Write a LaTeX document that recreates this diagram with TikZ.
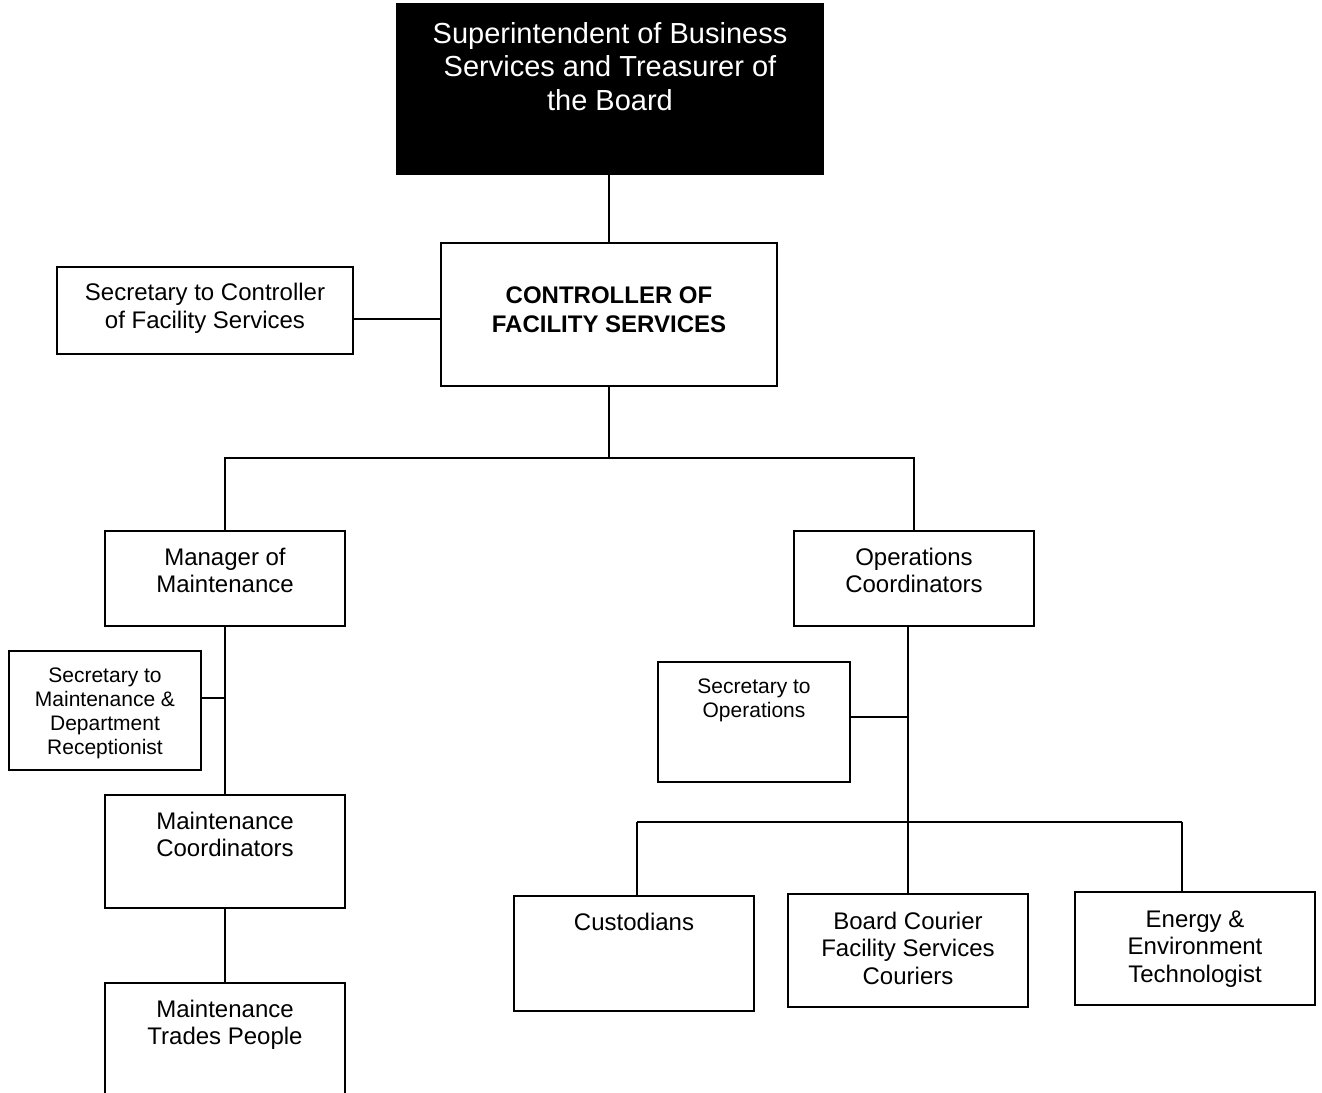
\documentclass[tikz,border=0pt]{standalone}
\usepackage{fontspec}
\setmainfont{Liberation Sans}
\usetikzlibrary{fit}
% fixed-height strut on the first line of every label, so that a label's
% north anchor sits exactly 12pt above its first baseline
\newcommand\fl{\rule{0pt}{12pt}}
\begin{document}
\begin{tikzpicture}[x=0.5pt,y=-0.5pt,
  box/.style={draw=black, line width=1pt, inner sep=0pt, rectangle},
  lbl/.style={inner sep=0pt, anchor=north, align=center, text=black,
              font=\fontsize{12}{13.75}\selectfont},
  small/.style={font=\fontsize{10.5}{12}\selectfont},
  link/.style={line width=1pt, draw=black}]
\clip (0,0) rectangle (1322,1092);

% ---- boxes ----
\node[box, fill=black, fit={(397,4) (823,174)}] (sup) {};
\node[box, fit={(441,243) (777,386)}] (ctl) {};
\node[box, fit={(57,267) (353,354)}] (sc) {};
\node[box, fit={(105,531) (345,626)}] (mm) {};
\node[box, fit={(794,531) (1034,626)}] (oc) {};
\node[box, fit={(9,651) (201,770)}] (sm) {};
\node[box, fit={(105,795) (345,908)}] (mc) {};
\node[box, fit={(105,983) (345,1100)}] (tp) {};
\node[box, fit={(658,662) (850,782)}] (so) {};
\node[box, fit={(514,896) (754,1011)}] (cu) {};
\node[box, fit={(788,894) (1028,1007)}] (bc) {};
\node[box, fit={(1075,892) (1315,1005)}] (en) {};

% ---- labels ----
\node[lbl, text=white, font=\fontsize{14.5}{16.75}\selectfont] (sup-t) at (610,19)
  {\fl Superintendent of Business\\Services and Treasurer of\\the Board};
\node[lbl, font=\bfseries\fontsize{12}{14.5}\selectfont] (ctl-t) at (609,279)
  {\fl CONTROLLER OF\\FACILITY SERVICES};
\node[lbl, font=\fontsize{12}{14}\selectfont] (sc-t) at (205,276)
  {\fl Secretary to Controller\\of Facility Services};
\node[lbl] (mm-t) at (225,541) {\fl Manager of\\Maintenance};
\node[lbl] (oc-t) at (914,541) {\fl Operations\\Coordinators};
\node[lbl, small] (sm-t) at (105,658)
  {\fl Secretary to\\Maintenance \&\\Department\\Receptionist};
\node[lbl] (mc-t) at (225,805) {\fl Maintenance\\Coordinators};
\node[lbl] (tp-t) at (225,993) {\fl Maintenance\\Trades People};
\node[lbl, small] (so-t) at (754,669) {\fl Secretary to\\Operations};
\node[lbl] (cu-t) at (634,906) {\fl Custodians};
\node[lbl] (bc-t) at (908,905) {\fl Board Courier\\Facility Services\\Couriers};
\node[lbl] (en-t) at (1195,903) {\fl Energy \&\\Environment\\Technologist};

% ---- junction points ----
\coordinate (jsc) at (397,319);
\coordinate (bus1) at (609,458);
\coordinate (jm) at (225,698);
\coordinate (jo) at (907,717);
\coordinate (b2l) at (637,822);
\coordinate (b2r) at (1182,822);

% ---- connectors ----
\draw[link] (sup.south -| ctl.north) -- (ctl.north);
\draw[link] (sc.east |- jsc) -- (ctl.west |- jsc);
\draw[link] (ctl.south) -- (bus1);
\draw[link] (mm.north) |- (bus1) -| (oc.north);
\draw[link] (mm.south) -- (mc.north);
\draw[link] (sm.east |- jm) -- (jm);
\draw[link] (mc.south) -- (tp.north);
\draw[link] (oc.south -| bc.north) -- (bc.north);
\draw[link] (so.east |- jo) -- (jo);
\draw[link] (b2l) -- (b2r);
\draw[link] (b2l) -- (cu.north -| b2l);
\draw[link] (b2r) -- (en.north -| b2r);
\end{tikzpicture}
\end{document}
